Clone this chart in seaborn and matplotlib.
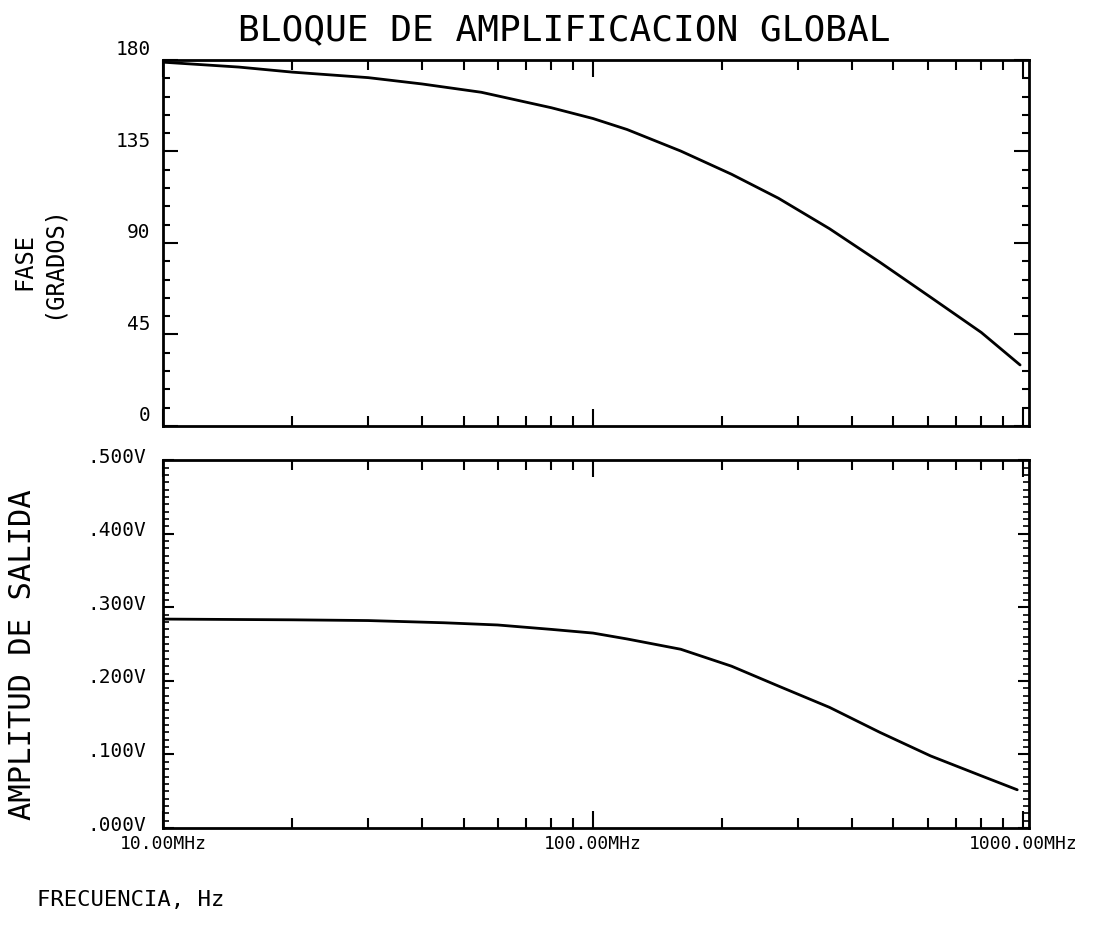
import matplotlib.pyplot as plt
import matplotlib.ticker as mticker
import matplotlib.transforms as mtrans
import seaborn as sns

# valores (frecuencia en MHz)
frec_fase = [10, 15, 20, 30, 40, 55, 80, 100, 120, 160, 210, 270, 355, 465, 610, 800, 985]
fase = [178.9, 176.5, 174.0, 171.3, 168.2, 164.1, 156.5, 151.2, 145.8, 135.2, 123.8,
        112.0, 97.0, 80.5, 63.3, 46.0, 30.0]

frec_amp = [10, 20, 30, 45, 60, 80, 100, 120, 160, 210, 270, 355, 465, 610, 800, 970]
amplitud = [0.284, 0.283, 0.282, 0.279, 0.276, 0.270, 0.265, 0.257, 0.243, 0.220,
            0.193, 0.164, 0.130, 0.098, 0.071, 0.052]

fase_ticks = [0, 45, 90, 135, 180]
amp_ticks = [0.0, 0.1, 0.2, 0.3, 0.4, 0.5]
amp_labels = ['.000V', '.100V', '.200V', '.300V', '.400V', '.500V']
frec_ticks = [10, 100, 1000]
frec_labels = ['10.00MHz', '100.00MHz', '1000.00MHz']

sns.set_style("white")
plt.rcParams['font.family'] = ['DejaVu Sans Mono', 'DejaVu Sans']
plt.rcParams['text.color'] = 'black'
plt.rcParams['xtick.color'] = 'black'
plt.rcParams['ytick.color'] = 'black'

fig = plt.figure(figsize=(10.97, 9.29), dpi=100)
ax1 = fig.add_axes([0.1486, 0.5404, 0.7894, 0.394])
ax2 = fig.add_axes([0.1486, 0.1076, 0.7894, 0.396])

sns.lineplot(x=frec_fase, y=fase, ax=ax1, color='black', linewidth=2)
sns.lineplot(x=frec_amp, y=amplitud, ax=ax2, color='black', linewidth=2)

for ax in (ax1, ax2):
    ax.set_xscale('log')
    ax.set_xlim(10, 1033)
    ax.xaxis.set_minor_locator(mticker.LogLocator(base=10, subs=range(2, 10)))
    ax.xaxis.set_minor_formatter(mticker.NullFormatter())
    ax.tick_params(which='both', direction='in', top=True, right=True,
                   bottom=True, left=True, color='black', width=1.5,
                   labelcolor='black')
    ax.tick_params(axis='x', which='major', length=12)
    ax.tick_params(axis='x', which='minor', length=7)
    for s in ax.spines.values():
        s.set_color('black')
        s.set_linewidth(2)
    ax.set_xlabel('')
    ax.set_ylabel('')

# panel de fase
ax1.set_ylim(0, 180)
ax1.set_xticks(frec_ticks, labels=['', '', ''])
ax1.set_yticks(fase_ticks, labels=[str(t) for t in fase_ticks], fontsize=14)
ax1.yaxis.set_minor_locator(mticker.MultipleLocator(9))
ax1.tick_params(axis='y', which='major', length=11, pad=9)
ax1.tick_params(axis='y', which='minor', length=5)
off1 = mtrans.ScaledTranslation(0, 0.13, fig.dpi_scale_trans)
for lab in ax1.get_yticklabels():
    lab.set_transform(lab.get_transform() + off1)

# panel de amplitud
ax2.set_ylim(0, 0.5)
ax2.set_xticks(frec_ticks, labels=frec_labels, fontsize=13)
ax2.set_yticks(amp_ticks, labels=amp_labels, fontsize=14)
ax2.yaxis.set_minor_locator(mticker.MultipleLocator(0.01))
ax2.tick_params(axis='y', which='major', length=8, pad=12)
ax2.tick_params(axis='y', which='minor', length=4, width=1.2)
ax2.tick_params(axis='x', which='major', pad=4)
off2 = mtrans.ScaledTranslation(0, 0.06, fig.dpi_scale_trans)
for lab in ax2.get_yticklabels():
    lab.set_transform(lab.get_transform() + off2)

fig.text(564 / 1097, 1 - 30 / 929, 'BLOQUE DE AMPLIFICACION GLOBAL',
         ha='center', va='center', fontsize=26)
fig.text(24 / 1097, 1 - 262 / 929, 'FASE', rotation=90,
         ha='center', va='center', fontsize=17)
fig.text(53 / 1097, 1 - 262 / 929, '(GRADOS)', rotation=90,
         ha='center', va='center', fontsize=17)
fig.text(23 / 1097, 1 - 655 / 929, 'AMPLITUD DE SALIDA', rotation=90,
         ha='center', va='center', fontsize=22)
fig.text(37 / 1097, 1 - 900 / 929, 'FRECUENCIA, Hz',
         ha='left', va='center', fontsize=16)

fig.savefig('out.png', dpi=100, facecolor='white')
